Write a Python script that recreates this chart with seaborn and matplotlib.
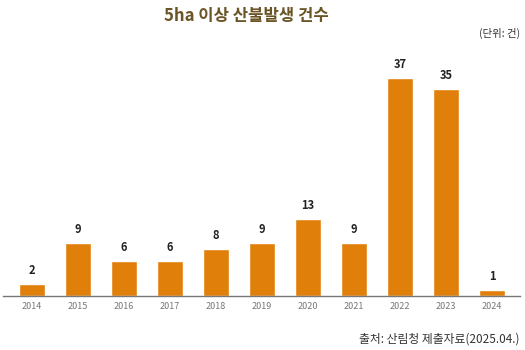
import matplotlib
matplotlib.use("Agg")
import matplotlib.pyplot as plt
import seaborn as sns
import pandas as pd

years = ["2014", "2015", "2016", "2017", "2018", "2019", "2020", "2021", "2022", "2023", "2024"]
counts = [2, 9, 6, 6, 8, 9, 13, 9, 37, 35, 1]
title = "5ha 이상 산불발생 건수"
unit = "(단위: 건)"
source = "출처: 산림청 제출자료(2025.04.)"

sns.set_theme(style="white")
plt.rcParams['font.family'] = ['Noto Sans CJK KR', 'DejaVu Sans']

df = pd.DataFrame({"year": years, "count": counts})

fig = plt.figure(figsize=(5.25, 3.5), dpi=100)
ax = fig.add_axes([0.006, 0.154, 0.985, 0.675])
sns.barplot(data=df, x="year", y="count", color="#E07F0A", saturation=1, width=0.57, ax=ax)
ax.set_xlim(-0.63, 10.61)
ax.set_ylim(0, 40)
for s in ["top", "right", "left"]:
    ax.spines[s].set_visible(False)
ax.spines["bottom"].set_color("#777777")
ax.spines["bottom"].set_linewidth(1)
ax.set_yticks([])
ax.set_xlabel("")
ax.set_ylabel("")
ax.tick_params(axis="x", length=0, pad=4, labelsize=6.5, labelcolor="#777777")
for i, v in enumerate(counts):
    ax.annotate(str(v), (i, v), xytext=(0, 5), textcoords="offset points",
                ha="center", va="bottom", fontsize=8, fontweight="bold", color="#222222")

fig.text(0.47, 0.955, title, ha="center", va="center", fontsize=12, fontweight="bold", color="#6B5426")
fig.text(0.99, 0.905, unit, ha="right", va="center", fontsize=7.5, color="#333333")
fig.text(0.99, 0.031, source, ha="right", va="center", fontsize=8.5, color="#333333")

fig.savefig("out.png", dpi=100)
